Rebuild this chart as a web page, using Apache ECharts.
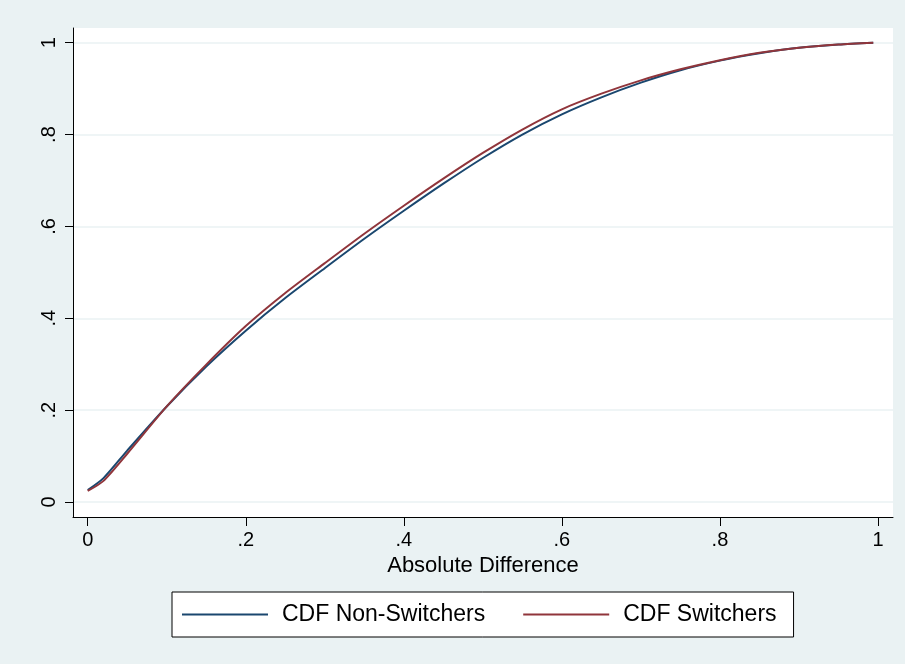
<!DOCTYPE html>
<html>
<head>
<meta charset="utf-8">
<script src="https://cdn.jsdelivr.net/npm/echarts@6/dist/echarts.min.js"></script>
<style>
html,body{margin:0;padding:0;background:#eaf2f3;}
#chart{width:905px;height:664px;}
</style>
</head>
<body>
<div id="chart"></div>
<script>
// ---- data ----
var xValues = [0, 0.02, 0.05, 0.1, 0.15, 0.2, 0.25, 0.3, 0.35, 0.4, 0.45, 0.5, 0.55, 0.6, 0.65, 0.7, 0.75, 0.8, 0.85, 0.9, 0.95, 0.994];
var cdfNonSwitchers = [0.026, 0.052, 0.112, 0.208, 0.295, 0.373, 0.444, 0.509, 0.573, 0.634, 0.693, 0.749, 0.800, 0.844, 0.881, 0.913, 0.940, 0.961, 0.977, 0.989, 0.996, 1.0];
var cdfSwitchers    = [0.024, 0.046, 0.105, 0.208, 0.299, 0.383, 0.455, 0.520, 0.584, 0.645, 0.704, 0.760, 0.811, 0.855, 0.889, 0.918, 0.942, 0.962, 0.978, 0.989, 0.996, 1.0];
var seriesNames = ['CDF Non-Switchers', 'CDF Switchers'];
var xTickValues = [0, 0.2, 0.4, 0.6, 0.8, 1];
var xTickLabels = ['0', '.2', '.4', '.6', '.8', '1'];
var yTickValues = [0, 0.2, 0.4, 0.6, 0.8, 1];
var yTickLabels = ['0', '.2', '.4', '.6', '.8', '1'];
var xTitle = 'Absolute Difference';

function zip(xs, ys) { return xs.map(function (x, i) { return [x, ys[i]]; }); }
function labelFor(vals, labels) {
  return function (v) {
    for (var i = 0; i < vals.length; i++) { if (Math.abs(vals[i] - v) < 1e-6) return labels[i]; }
    return '';
  };
}

var FONT = '"Liberation Sans", Arial, Helvetica, sans-serif';
var chart = echarts.init(document.getElementById('chart'), null, {renderer: 'canvas'});
chart.setOption({
  backgroundColor: '#eaf2f3',
  animation: false,
  textStyle: {fontFamily: FONT, color: '#000'},
  grid: {left: 73, top: 28, width: 820, height: 489, show: true, backgroundColor: '#ffffff', borderWidth: 0, containLabel: false},
  legend: {
    left: 172, top: 592,
    data: seriesNames,
    icon: 'rect',
    itemWidth: 86, itemHeight: 2,
    itemGap: 38,
    padding: [11, 17, 11, 10],
    backgroundColor: '#ffffff',
    borderColor: '#000000',
    borderWidth: 1,
    borderRadius: 0,
    textStyle: {fontFamily: FONT, fontSize: 23, color: '#000', padding: [0, 0, 0, 9]}
  },
  xAxis: {
    type: 'value', min: -0.0186, max: 1.019,
    name: xTitle, nameLocation: 'middle', nameGap: 34,
    nameTextStyle: {fontFamily: FONT, fontSize: 22, color: '#000'},
    axisLine: {show: true, onZero: false, lineStyle: {color: '#000', width: 1}},
    axisTick: {show: true, length: 9, customValues: xTickValues, lineStyle: {color: '#000'}},
    axisLabel: {customValues: xTickValues, formatter: labelFor(xTickValues, xTickLabels), fontSize: 20, color: '#000', margin: 13, fontFamily: FONT},
    splitLine: {show: false}
  },
  yAxis: {
    type: 'value', min: -0.0327, max: 1.032,
    axisLine: {show: true, onZero: false, lineStyle: {color: '#000', width: 1}},
    axisTick: {show: true, length: 8, customValues: yTickValues, lineStyle: {color: '#000'}},
    axisLabel: {customValues: yTickValues, formatter: labelFor(yTickValues, yTickLabels), fontSize: 20, color: '#000', rotate: 90, margin: 14, fontFamily: FONT},
    splitLine: {show: true, lineStyle: {color: '#eaf2f3', width: 1.5}}
  },
  series: [
    {name: seriesNames[0], type: 'line', data: zip(xValues, cdfNonSwitchers), showSymbol: false, symbol: 'none', smooth: 0.25, lineStyle: {color: '#1a476f', width: 2}, itemStyle: {color: '#1a476f'}},
    {name: seriesNames[1], type: 'line', data: zip(xValues, cdfSwitchers), showSymbol: false, symbol: 'none', smooth: 0.25, lineStyle: {color: '#90353b', width: 2}, itemStyle: {color: '#90353b'}}
  ]
});
</script>
</body>
</html>
